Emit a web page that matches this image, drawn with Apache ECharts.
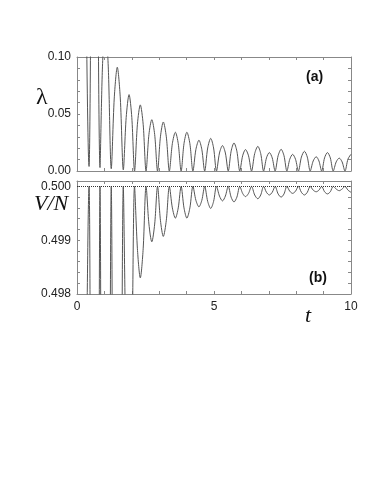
<!DOCTYPE html>
<html>
<head>
<meta charset="utf-8">
<script src="https://cdn.jsdelivr.net/npm/echarts@6/dist/echarts.min.js"></script>
<style>
  html, body { margin: 0; padding: 0; background: #fff; }
  #chart { width: 374px; height: 486px; }
</style>
</head>
<body>
<div id="chart"></div>
<script>
// panel (a): lambda vs t, [t, lambda]
const lambdaData = [
  [0.00, 1.20], [0.44, 0.004], [0.64, 0.60], [0.84, 0.003],
  [0.93, 0.092], [1.03, 0.130], [1.14, 0.092], [1.25, 0.002],
  [1.36, 0.064], [1.47, 0.091], [1.58, 0.064], [1.69, 0.001],
  [1.795, 0.047], [1.90, 0.067], [2.00, 0.047], [2.10, 0],
  [2.205, 0.041], [2.31, 0.058], [2.415, 0.041], [2.52, 0],
  [2.625, 0.032], [2.73, 0.045], [2.835, 0.032], [2.94, 0],
  [3.045, 0.030], [3.15, 0.043], [3.26, 0.030], [3.37, 0],
  [3.48, 0.024], [3.59, 0.034], [3.695, 0.024], [3.80, 0],
  [3.905, 0.024], [4.01, 0.034], [4.12, 0.024], [4.23, 0],
  [4.34, 0.019], [4.45, 0.027], [4.555, 0.019], [4.66, 0],
  [4.77, 0.0202], [4.88, 0.0286], [4.985, 0.0202], [5.09, 0],
  [5.20, 0.0158], [5.31, 0.0223], [5.415, 0.0158], [5.52, 0],
  [5.625, 0.0174], [5.73, 0.0246], [5.835, 0.0174], [5.94, 0],
  [6.045, 0.0133], [6.15, 0.0188], [6.26, 0.0133], [6.37, 0],
  [6.485, 0.0153], [6.60, 0.0216], [6.705, 0.0153], [6.81, 0],
  [6.915, 0.0115], [7.02, 0.0162], [7.125, 0.0115], [7.23, 0],
  [7.34, 0.0134], [7.45, 0.019], [7.555, 0.0134], [7.66, 0],
  [7.765, 0.0103], [7.87, 0.0146], [7.975, 0.0103], [8.08, 0],
  [8.19, 0.0122], [8.30, 0.0173], [8.405, 0.0122], [8.51, 0],
  [8.62, 0.0088], [8.73, 0.0125], [8.83, 0.0088], [8.93, 0],
  [9.035, 0.0115], [9.14, 0.0162], [9.245, 0.0115], [9.35, 0],
  [9.46, 0.008], [9.57, 0.0113], [9.675, 0.008], [9.78, 0],
  [9.89, 0.0105], [10.0, 0.0147]
];

// panel (b): V/N vs t
const vnData = [
  [0.00, 0.470], [0.44, 0.5000], [0.54, 0.4850], [0.64, 0.478], [0.74, 0.4850], [0.84, 0.5000],
  [0.93, 0.4878], [1.03, 0.482], [1.14, 0.4878], [1.25, 0.5000],
  [1.36, 0.4891], [1.47, 0.484], [1.58, 0.4891], [1.69, 0.5000],
  [1.795, 0.4966], [1.90, 0.495], [2.00, 0.4966], [2.10, 0.5000],
  [2.205, 0.49884], [2.31, 0.4983], [2.415, 0.49884], [2.52, 0.5000],
  [2.625, 0.49930], [2.73, 0.49897], [2.835, 0.49930], [2.94, 0.5000],
  [3.045, 0.49937], [3.15, 0.49907], [3.26, 0.49937], [3.37, 0.5000],
  [3.48, 0.49960], [3.59, 0.49941], [3.695, 0.49960], [3.80, 0.5000],
  [3.905, 0.49960], [4.01, 0.49941], [4.12, 0.49960], [4.23, 0.5000],
  [4.34, 0.49974], [4.45, 0.49962], [4.555, 0.49974], [4.66, 0.5000],
  [4.77, 0.49972], [4.88, 0.49959], [4.985, 0.49972], [5.09, 0.5000],
  [5.20, 0.49982], [5.31, 0.49973], [5.415, 0.49982], [5.52, 0.5000],
  [5.625, 0.49980], [5.73, 0.49971], [5.835, 0.49980], [5.94, 0.5000],
  [6.045, 0.49987], [6.15, 0.49981], [6.26, 0.49987], [6.37, 0.5000],
  [6.485, 0.49984], [6.60, 0.49977], [6.705, 0.49984], [6.81, 0.5000],
  [6.915, 0.49989], [7.02, 0.49984], [7.125, 0.49989], [7.23, 0.5000],
  [7.34, 0.49986], [7.45, 0.49980], [7.555, 0.49986], [7.66, 0.5000],
  [7.765, 0.49991], [7.87, 0.49987], [7.975, 0.49991], [8.08, 0.5000],
  [8.19, 0.49989], [8.30, 0.49984], [8.405, 0.49989], [8.51, 0.5000],
  [8.62, 0.49993], [8.73, 0.49990], [8.83, 0.49993], [8.93, 0.5000],
  [9.035, 0.49990], [9.14, 0.49986], [9.245, 0.49990], [9.35, 0.5000],
  [9.46, 0.49995], [9.57, 0.49992], [9.675, 0.49995], [9.78, 0.5000],
  [9.89, 0.49993], [10.0, 0.49989]
];

const xLabels = [0, 5, 10];
const lambdaLabels = [0, 0.05, 0.10];
const vnLabels = [0.498, 0.499, 0.500];
const vnRef = 0.5;

const chart = echarts.init(document.getElementById('chart'));

const frameColor = '#888';
const labelFont = { fontFamily: 'Liberation Sans', fontSize: 12, color: '#222' };

function isIn(list, v, eps) {
  return list.some(function (x) { return Math.abs(x - v) < eps; });
}

function frameAxis(extra) {
  return Object.assign({
    type: 'value',
    axisLine: { show: true, onZero: false, lineStyle: { color: frameColor, width: 1 } },
    axisTick: { show: true, inside: true, length: 3, lineStyle: { color: frameColor } },
    axisLabel: { show: false },
    splitLine: { show: false }
  }, extra);
}

const option = {
  animation: false,
  backgroundColor: '#fff',
  grid: [
    { left: 77, width: 274, top: 57, height: 114 },
    { left: 77, width: 274, top: 181, height: 113 }
  ],
  xAxis: [
    frameAxis({ gridIndex: 0, min: 0, max: 10, interval: 1, position: 'bottom' }),
    frameAxis({ gridIndex: 0, min: 0, max: 10, interval: 1, position: 'top' }),
    frameAxis({
      gridIndex: 1, min: 0, max: 10, interval: 1, position: 'bottom',
      axisLabel: Object.assign({
        show: true, margin: 7,
        formatter: function (v) { return isIn(xLabels, v, 1e-6) ? String(v) : ''; }
      }, labelFont)
    }),
    frameAxis({ gridIndex: 1, min: 0, max: 10, interval: 1, position: 'top' })
  ],
  yAxis: [
    frameAxis({
      gridIndex: 0, min: 0, max: 0.1, interval: 0.01, position: 'left',
      axisLabel: Object.assign({
        show: true, margin: 6,
        formatter: function (v) { return isIn(lambdaLabels, v, 1e-6) ? v.toFixed(2) : ''; }
      }, labelFont)
    }),
    frameAxis({ gridIndex: 0, min: 0, max: 0.1, interval: 0.01, position: 'right' }),
    frameAxis({
      gridIndex: 1, min: 0.498, max: 0.5001, interval: 0.0002, position: 'left',
      axisLabel: Object.assign({
        show: true, margin: 6, showMaxLabel: false,
        formatter: function (v) { return isIn(vnLabels, v, 1e-7) ? v.toFixed(3) : ''; }
      }, labelFont)
    }),
    frameAxis({ gridIndex: 1, min: 0.498, max: 0.5001, interval: 0.0002, position: 'right' })
  ],
  series: [
    {
      type: 'line',
      xAxisIndex: 0, yAxisIndex: 0,
      data: lambdaData,
      showSymbol: false,
      smooth: 0.3,
      lineStyle: { color: '#555', width: 1 }
    },
    {
      type: 'line',
      xAxisIndex: 2, yAxisIndex: 2,
      data: vnData,
      showSymbol: false,
      smooth: 0.3,
      lineStyle: { color: '#555', width: 1 },
      markLine: {
        silent: true,
        symbol: 'none',
        label: { show: false },
        lineStyle: { type: 'dotted', color: '#333', width: 1 },
        data: [{ yAxis: vnRef }]
      }
    }
  ],
  graphic: [
    { type: 'text', left: 36, top: 86, style: { text: 'λ', font: '24px "Liberation Serif"', fill: '#111' } },
    { type: 'text', left: 34, top: 193, style: { text: 'V/N', font: 'italic 22px "Liberation Serif"', fill: '#111' } },
    { type: 'text', left: 305, top: 305, style: { text: 't', font: 'italic 22px "Liberation Serif"', fill: '#111' } },
    { type: 'text', left: 306, top: 70, style: { text: '(a)', font: 'bold 14px "Liberation Sans"', fill: '#111' } },
    { type: 'text', left: 309, top: 271, style: { text: '(b)', font: 'bold 14px "Liberation Sans"', fill: '#111' } }
  ]
};

chart.setOption(option);
</script>
</body>
</html>
